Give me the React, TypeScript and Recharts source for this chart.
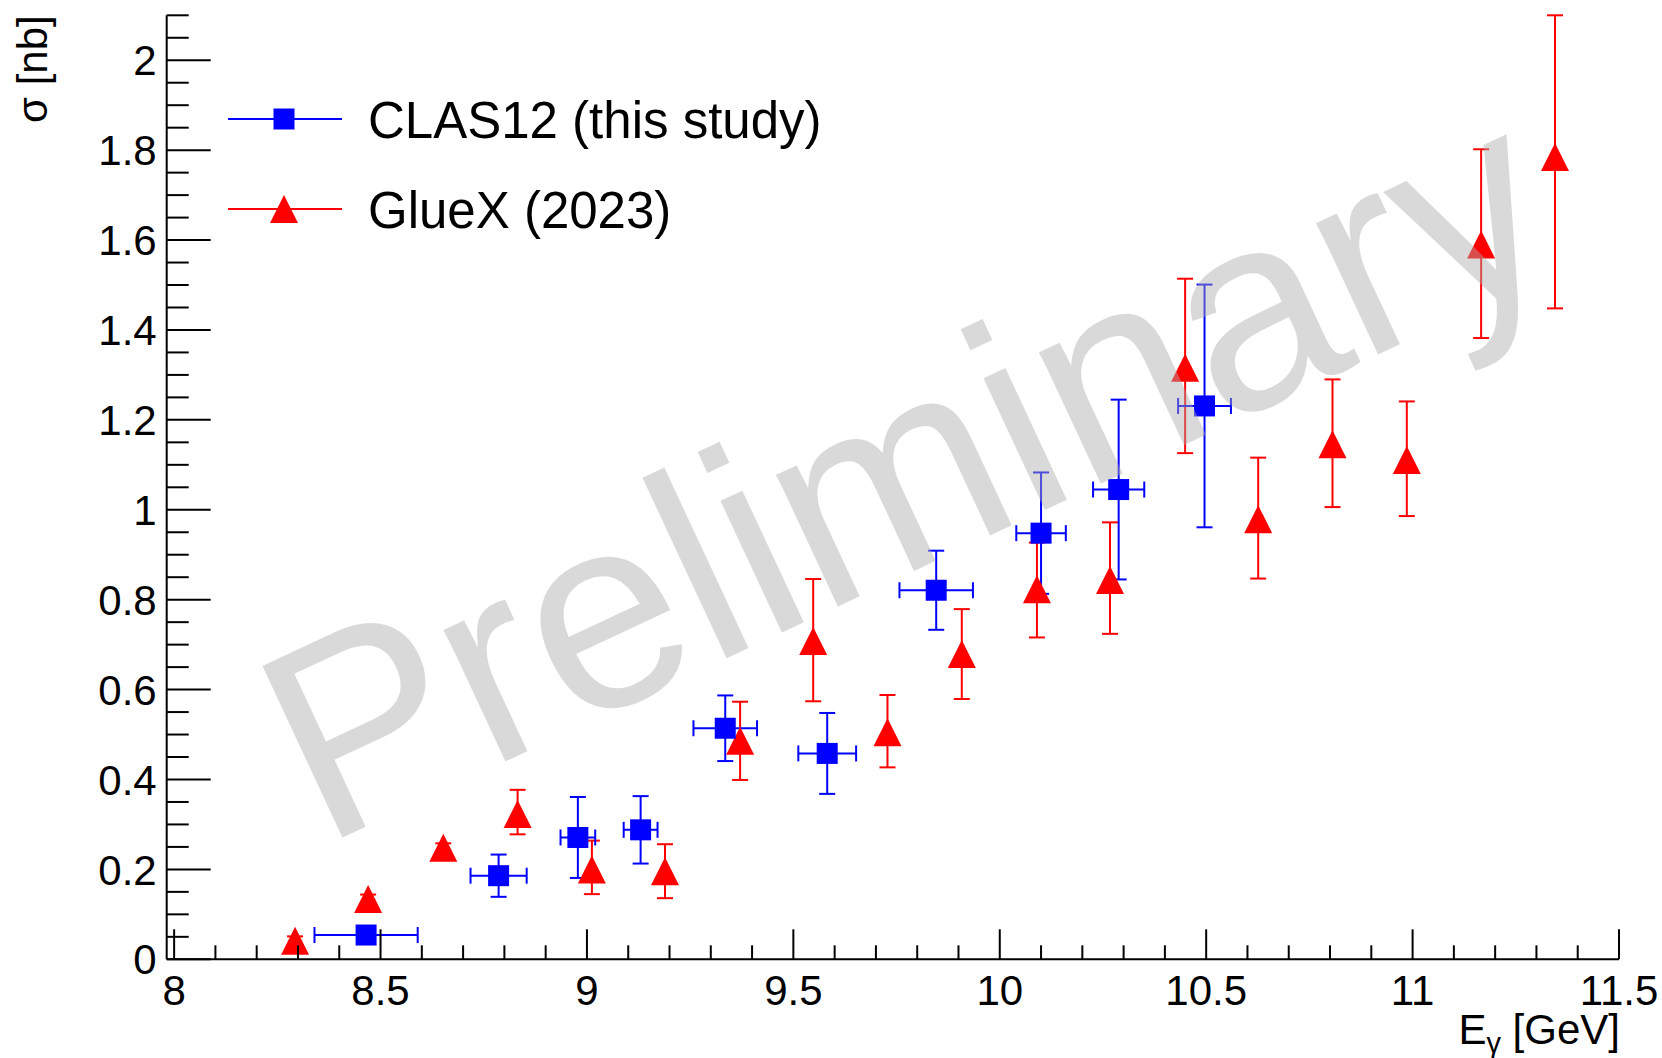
import { ErrorBar, Legend, Scatter, ScatterChart, XAxis, YAxis } from 'recharts'

const FONT = '"Liberation Sans", Arial, Helvetica, sans-serif'

// CLAS12 (this study): photon energy bins, cross section and errors
const clasEnergy = [8.465, 8.786, 8.978, 9.13, 9.335, 9.582, 9.846, 10.1, 10.288, 10.496]
const clasSigma = [0.054, 0.186, 0.271, 0.288, 0.514, 0.458, 0.821, 0.948, 1.045, 1.231]
const clasEnergyErr = [0.125, 0.068, 0.042, 0.041, 0.077, 0.07, 0.089, 0.06, 0.062, 0.064]
const clasSigmaErr = [0.01, 0.047, 0.09, 0.075, 0.073, 0.09, 0.088, 0.135, 0.2, 0.27]

// GlueX (2023)
const gluexEnergy = [
  8.293, 8.47, 8.652, 8.832, 9.012, 9.189, 9.371, 9.548, 9.728, 9.908, 10.09, 10.267, 10.449, 10.626, 10.806,
  10.986, 11.166, 11.345,
]
const gluexSigma = [
  0.041, 0.134, 0.248, 0.323, 0.2, 0.196, 0.486, 0.708, 0.505, 0.679, 0.823, 0.844, 1.316, 0.979, 1.146, 1.111,
  1.59, 1.785,
]
const gluexErrLow = [
  0.01, 0.01, 0.01, 0.045, 0.055, 0.06, 0.087, 0.134, 0.078, 0.1, 0.107, 0.12, 0.19, 0.132, 0.14, 0.125, 0.208,
  0.337,
]
const gluexErrHigh = [
  0.01, 0.01, 0.01, 0.054, 0.064, 0.06, 0.087, 0.138, 0.083, 0.1, 0.104, 0.128, 0.198, 0.137, 0.144, 0.13, 0.212,
  0.315,
]

const xMajorTicks = [8, 8.5, 9, 9.5, 10, 10.5, 11, 11.5]
const yMajorTicks = [0, 0.2, 0.4, 0.6, 0.8, 1, 1.2, 1.4, 1.6, 1.8, 2]
const legendOrder = ['CLAS12 (this study)', 'GlueX (2023)']

// secondary divisions: 0.1 GeV on x, 0.05 nb on y
const xTicks = Array.from({ length: 36 }, (_, i) => Math.round((8 + i * 0.1) * 10) / 10)
const yTicks = Array.from({ length: 43 }, (_, i) => Math.round(i * 5) / 100)

const clasPoints = clasEnergy.map((e, i) => ({
  e,
  sigma: clasSigma[i],
  eErr: clasEnergyErr[i],
  sigmaErr: clasSigmaErr[i],
}))

const gluexPoints = gluexEnergy.map((e, i) => ({
  e,
  sigma: gluexSigma[i],
  sigmaErr: [gluexErrLow[i], gluexErrHigh[i]],
}))

const W = 1662
const H = 1058

function Square({ cx, cy, fill }: any) {
  return <rect x={cx - 10.5} y={cy - 10.5} width={21} height={21} fill={fill} />
}

function Triangle({ cx, cy, fill }: any) {
  return <polygon points={`${cx - 14},${cy + 14} ${cx + 14},${cy + 14} ${cx},${cy - 14}`} fill={fill} />
}

function XTick({ x, y, payload }: any) {
  const v = payload.value
  const major = xMajorTicks.includes(v)
  return (
    <g>
      <line x1={x} x2={x} y1={y} y2={y - (major ? 30 : 14)} stroke="#000" strokeWidth={2} />
      {major && (
        <text x={x} y={y + 46} textAnchor="middle" fontSize={42} fontFamily={FONT} fill="#000">
          {String(v)}
        </text>
      )}
    </g>
  )
}

function YTick({ x, y, payload }: any) {
  const v = payload.value
  const major = yMajorTicks.includes(v)
  return (
    <g>
      <line x1={x} x2={x + (major ? 44 : 22)} y1={y} y2={y} stroke="#000" strokeWidth={2} />
      {major && (
        <text x={x - 10} y={y} dy="0.36em" textAnchor="end" fontSize={42} fontFamily={FONT} fill="#000">
          {String(v)}
        </text>
      )}
    </g>
  )
}

function XTitle({ viewBox }: any) {
  const { x, y, width } = viewBox
  return (
    <text x={x + width + 1} y={y + 85} textAnchor="end" fontSize={42} fontFamily={FONT} fill="#000">
      E
      <tspan fontSize={29} dy={9}>
        γ
      </tspan>
      <tspan dy={-9}> [GeV]</tspan>
    </text>
  )
}

function YTitle({ viewBox }: any) {
  const { x, y } = viewBox
  const tx = x - 20
  return (
    <text
      x={tx}
      y={y}
      transform={`rotate(-90 ${tx} ${y})`}
      textAnchor="end"
      fontSize={42}
      fontFamily={FONT}
      fill="#000"
    >
      σ [nb]
    </text>
  )
}

function LegendBox({ payload }: any) {
  const items = [...(payload ?? [])].sort((a, b) => legendOrder.indexOf(a.value) - legendOrder.indexOf(b.value))
  return (
    <svg width={900} height={260} style={{ display: 'block' }}>
      {items.map((item, i) => {
        const y = 119 + i * 90
        return (
          <g key={item.value}>
            <line x1={228} x2={342} y1={y} y2={y} stroke={item.color} strokeWidth={2} />
            {item.type === 'square' ? (
              <Square cx={284} cy={y} fill={item.color} />
            ) : (
              <Triangle cx={284} cy={y} fill={item.color} />
            )}
            <text x={368} y={y + 19} fontSize={51} fontFamily={FONT} fill="#000">
              {item.value}
            </text>
          </g>
        )
      })}
    </svg>
  )
}

export default function App() {
  return (
    <div style={{ position: 'absolute', left: 0, top: 0, width: W, height: H, background: '#fff' }}>
      <ScatterChart width={W} height={H} margin={{ top: 15.3, right: 43, bottom: 38.7, left: 66.7 }}>
        <XAxis
          type="number"
          dataKey="e"
          domain={[7.982, 11.5]}
          ticks={xTicks}
          interval={0}
          height={60}
          tickSize={0}
          tickMargin={0}
          tickLine={false}
          axisLine={{ stroke: '#000', strokeWidth: 2 }}
          tick={<XTick />}
          label={(p: any) => <XTitle {...p} />}
        />
        <YAxis
          type="number"
          dataKey="sigma"
          domain={[0, 2.1]}
          ticks={yTicks}
          interval={0}
          width={100}
          tickSize={0}
          tickMargin={0}
          tickLine={false}
          axisLine={{ stroke: '#000', strokeWidth: 2 }}
          tick={<YTick />}
          label={(p: any) => <YTitle {...p} />}
        />
        <Legend
          layout="vertical"
          align="center"
          verticalAlign="middle"
          wrapperStyle={{ left: 0, top: 0, width: 900, height: 260 }}
          content={(p: any) => <LegendBox {...p} />}
        />
        <Scatter
          name="GlueX (2023)"
          data={gluexPoints}
          fill="#ff0000"
          legendType="triangle"
          shape={(p: any) => <Triangle {...p} fill="#ff0000" />}
          isAnimationActive={false}
        >
          <ErrorBar dataKey="sigmaErr" direction="y" width={8} stroke="#ff0000" strokeWidth={2} isAnimationActive={false} />
        </Scatter>
        <Scatter
          name="CLAS12 (this study)"
          data={clasPoints}
          fill="#0000ff"
          legendType="square"
          shape={(p: any) => <Square {...p} fill="#0000ff" />}
          isAnimationActive={false}
        >
          <ErrorBar dataKey="eErr" direction="x" width={8} stroke="#0000ff" strokeWidth={2} isAnimationActive={false} />
          <ErrorBar dataKey="sigmaErr" direction="y" width={8} stroke="#0000ff" strokeWidth={2} isAnimationActive={false} />
        </Scatter>
      </ScatterChart>
      <svg width={W} height={H} style={{ position: 'absolute', left: 0, top: 0, pointerEvents: 'none' }}>
        <text
          x={322}
          y={847}
          transform="rotate(-25 322 847)"
          fontSize={275}
          fontFamily={FONT}
          fill="#aaaaaa"
          fillOpacity={0.45}
        >
          Preliminary
        </text>
      </svg>
    </div>
  )
}
